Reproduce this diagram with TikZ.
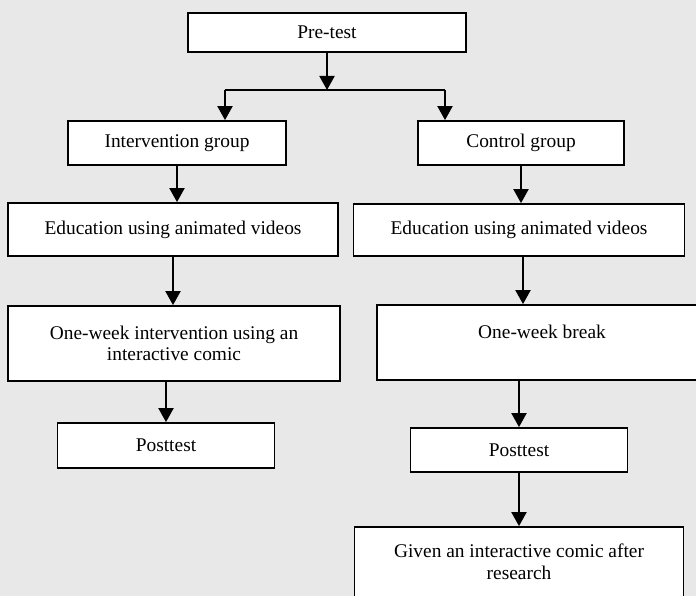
\documentclass[tikz,border=0pt]{standalone}
\usepackage{fontspec}
\setmainfont{Liberation Serif}
\usetikzlibrary{arrows.meta}
\definecolor{backdrop}{RGB}{232,232,232}
\begin{document}
\begin{tikzpicture}[x=1pt, y=-1pt,
  every node/.style={font=\fontsize{19.4}{21.5}\selectfont},
  stage/.style={draw, line width=1.8pt, fill=white, inner sep=0pt, align=center},
  flow/.style={-{Triangle[length=14pt,width=15pt]}, line width=2pt}]
  % Canvas
  \useasboundingbox (0,0) rectangle (696,596);
  \clip (0,0) rectangle (696,596);
  \fill[backdrop] (0,0) rectangle (696,596);
  % Top block
  \node[stage, minimum width=278pt, minimum height=39pt] (pretest) at (327,32.5) {Pre-test};
  % Groups
  \node[stage, minimum width=218pt, minimum height=44pt] (interv) at (177,143) {Intervention group};
  \node[stage, minimum width=206pt, minimum height=44pt] (control) at (521,143) {Control group};
  % Split
  \coordinate (split) at (327,90);
  \coordinate (splitL) at (225,90);
  \coordinate (splitR) at (445,90);
  \draw[flow] (pretest.south) -- (split);
  \draw[line width=2pt] (splitL) -- (splitR);
  \draw[flow] (splitL) -- (splitL |- interv.north);
  \draw[flow] (splitR) -- (splitR |- control.north);
  % Intervention branch
  \node[stage, minimum width=330pt, minimum height=53pt] (edu1) at (173,229.5) {Education using animated videos};
  \node[stage, minimum width=332pt, minimum height=75pt] (week1) at (174,343.5) {One-week intervention using an\\interactive comic};
  \node[stage, minimum width=217pt, minimum height=45pt] (post1) at (166,445.5) {Posttest};
  \draw[flow] (interv.south) -- (interv.south |- edu1.north);
  \draw[flow] (edu1.south) -- (edu1.south |- week1.north);
  \draw[flow] (post1.north |- week1.south) -- (post1.north);
  % Control branch
  \node[stage, minimum width=331pt, minimum height=52pt] (edu2) at (519,230) {Education using animated videos};
  \node[stage, minimum width=330pt, minimum height=75pt] (brk) at (542,342.5) {One-week break\\ \mbox{}};
  \node[stage, minimum width=217pt, minimum height=44pt] (post2) at (519,450) {Posttest};
  \node[stage, minimum width=329pt, minimum height=70pt] (given) at (519,562) {Given an interactive comic after\\research};
  \draw[flow] (control.south) -- (control.south |- edu2.north);
  \draw[flow] ([xshift=4pt]edu2.south) -- ([xshift=4pt]edu2.south |- brk.north);
  \draw[flow] (post2.north |- brk.south) -- (post2.north);
  \draw[flow] (post2.south) -- (post2.south |- given.north);
\end{tikzpicture}
\end{document}
